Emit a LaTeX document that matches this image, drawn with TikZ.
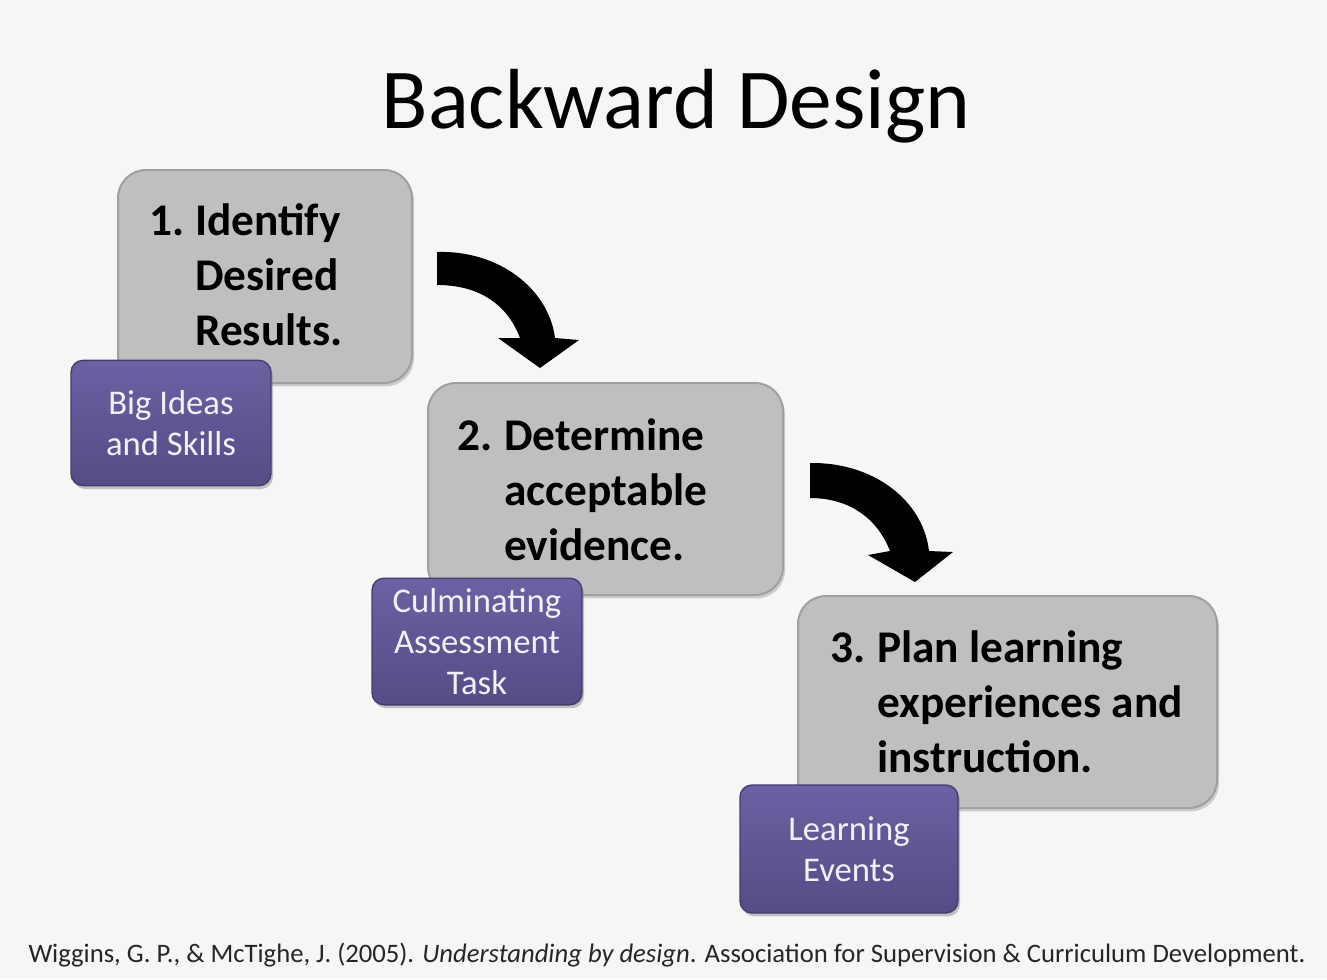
\documentclass[tikz,border=0pt]{standalone}
\usepackage{fontspec}
\setmainfont{Carlito}
\usetikzlibrary{shadows}
\definecolor{bg}{HTML}{F6F6F6}
\definecolor{boxgray}{HTML}{BFBFBF}
\definecolor{boxedge}{HTML}{A0A0A0}
\definecolor{purp}{HTML}{574B86}
\definecolor{purptop}{HTML}{6B61A3}
\definecolor{purpedge}{HTML}{463C6E}
\definecolor{subtxt}{HTML}{F2F0FA}
\begin{document}
\begin{tikzpicture}[x=0.75pt,y=-0.75pt,
  stepbox/.style={rectangle, rounded corners=21pt, fill=boxgray, draw=boxedge, line width=1.5pt,
    inner sep=0pt, drop shadow={shadow xshift=1.5pt, shadow yshift=-2.5pt, opacity=0.35}},
  subbox/.style={rectangle, rounded corners=9pt, top color=purptop, bottom color=purp, draw=purpedge,
    line width=1pt, inner sep=0pt, drop shadow={shadow xshift=1.5pt, shadow yshift=-2.5pt, opacity=0.45}},
  steptext/.style={anchor=base west, inner sep=0pt, font=\fontsize{34}{41.5}\selectfont\bfseries},
  subtext/.style={text=subtxt, align=center, inner sep=0pt, font=\fontsize{26}{30.5}\selectfont},
  bigarrow/.style={fill=black}
]
\useasboundingbox (0,0) rectangle (1327,979);
\fill[bg] (0,0) rectangle (1327,979);

% title
\node[anchor=base, inner sep=0pt, font=\fontsize{64}{72}\selectfont] (title) at (676,128) {Backward Design};

% step boxes
\node[stepbox, minimum width=220.5pt, minimum height=159.75pt] (b1) at (265,276.5) {};
\node[stepbox, minimum width=266.25pt, minimum height=159pt] (b2) at (605.5,489) {};
\node[stepbox, minimum width=314.25pt, minimum height=159pt] (b3) at (1007.5,702) {};

\node[steptext] (t1) at (149,235) {\begin{tabular}[t]{@{}p{34.5pt}@{}l@{}}1.&Identify\\&Desired\\&Results.\end{tabular}};
\node[steptext] (t2) at (457,450) {\begin{tabular}[t]{@{}p{35.25pt}@{}l@{}}2.&Determine\\&acceptable\\&evidence.\end{tabular}};
\node[steptext] (t3) at (830,662) {\begin{tabular}[t]{@{}p{35.25pt}@{}l@{}}3.&Plan learning\\&experiences and\\&instruction.\end{tabular}};

% sub boxes
\node[subbox, minimum width=150pt, minimum height=94pt] (p1) at (171,423) {};
\node[subtext] (q1) at (p1.center) {Big Ideas\\and Skills};
\node[subbox, minimum width=157.5pt, minimum height=95pt] (p2) at (477,641.5) {};
\node[subtext, font=\fontsize{26}{31}\selectfont] (q2) at (p2.center) {Culminating\\Assessment\\Task};
\node[subbox, minimum width=163.5pt, minimum height=96pt] (p3) at (849,849) {};
\node[subtext] (q3) at (p3.center) {Learning\\Events};

% curved block arrows
\fill[bigarrow] (437,252) .. controls (500,250) and (549,290) .. (555,338)
  -- (579,340) -- (540,368) -- (498,338) -- (520,338)
  .. controls (508,306) and (481,285) .. (437,285) -- cycle;
\fill[bigarrow] (810,463) .. controls (873,462) and (923,500) .. (929,551)
  -- (953,552) -- (915,582) -- (868,555) -- (890,551)
  .. controls (878,520) and (851,498) .. (810,498) -- cycle;

% citation
\node[anchor=base, inner sep=0pt, font=\fontsize{20}{24}\selectfont, text=black!85] (cite) at (667,962)
  {Wiggins, G. P., \& McTighe, J. (2005). \textit{Understanding by design}. Association for Supervision \& Curriculum Development.};
\end{tikzpicture}
\end{document}
